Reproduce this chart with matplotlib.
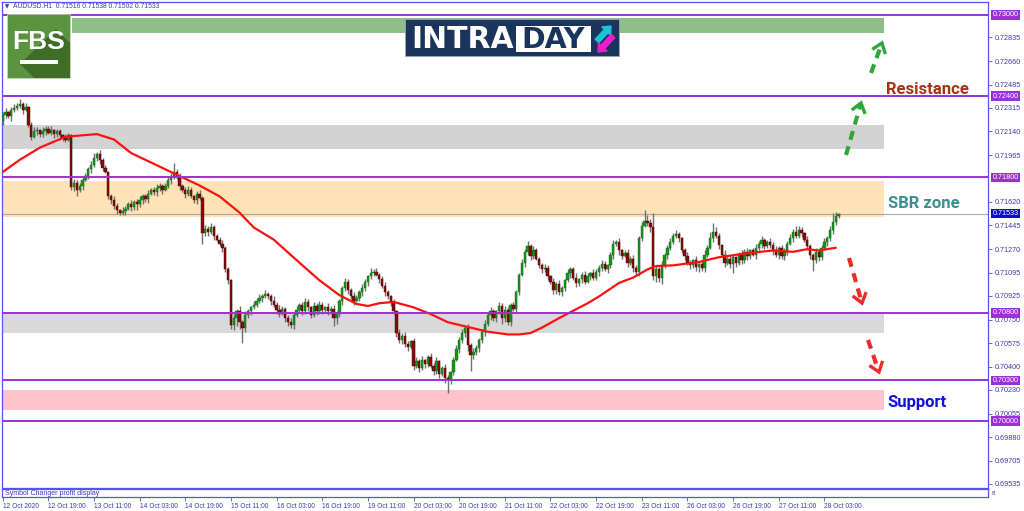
import numpy as np
import matplotlib
matplotlib.use('Agg')
import matplotlib.pyplot as plt
from matplotlib.patches import Rectangle, Polygon, FancyArrow

# AUDUSD H1 closes, 12 Oct 2020 00:00 .. 28 Oct 2020 (one value per hourly bar)
closes = [
    0.7226, 0.7228, 0.7225, 0.7230, 0.7231, 0.7233, 0.7234, 0.7230, 0.7232, 0.7219,
    0.7210, 0.7214, 0.7215, 0.7212, 0.7214, 0.7216, 0.7213, 0.7215, 0.7212, 0.7214,
    0.7211, 0.7209, 0.7208, 0.7211, 0.7173, 0.7176, 0.7171, 0.7174, 0.7178, 0.7181,
    0.7186, 0.7189, 0.7194, 0.7197, 0.7193, 0.7187, 0.7184, 0.7166, 0.7163, 0.7159,
    0.7156, 0.7154, 0.7155, 0.7157, 0.7160, 0.7158, 0.7162, 0.7160, 0.7163, 0.7166,
    0.7164, 0.7168, 0.7171, 0.7169, 0.7172, 0.7174, 0.7171, 0.7174, 0.7178, 0.7181,
    0.7184, 0.7180, 0.7174, 0.7171, 0.7168, 0.7171, 0.7166, 0.7163, 0.7168, 0.7165,
    0.7139, 0.7142, 0.7140, 0.7143, 0.7137, 0.7134, 0.7131, 0.7128, 0.7112, 0.7104,
    0.7071, 0.7076, 0.7081, 0.7073, 0.7069, 0.7078, 0.7081, 0.7084, 0.7086, 0.7089,
    0.7091, 0.7092, 0.7094, 0.7092, 0.7089, 0.7086, 0.7082, 0.7079, 0.7083, 0.7076,
    0.7073, 0.7071, 0.7078, 0.7082, 0.7086, 0.7081, 0.7088, 0.7084, 0.7078, 0.7085,
    0.7081, 0.7086, 0.7082, 0.7084, 0.7081, 0.7083, 0.7076, 0.7079, 0.7089, 0.7098,
    0.7103, 0.7097, 0.7092, 0.7089, 0.7091, 0.7095, 0.7098, 0.7103, 0.7107, 0.7109,
    0.7110, 0.7108, 0.7105, 0.7100, 0.7095, 0.7092, 0.7088, 0.7081, 0.7065, 0.7060,
    0.7063, 0.7057, 0.7055, 0.7059, 0.7041, 0.7044, 0.7039, 0.7045, 0.7042, 0.7047,
    0.7041, 0.7037, 0.7044, 0.7035, 0.7039, 0.7032, 0.7030, 0.7036, 0.7045, 0.7053,
    0.7060, 0.7065, 0.7069, 0.7056, 0.7049, 0.7051, 0.7054, 0.7060, 0.7066, 0.7072,
    0.7078, 0.7081, 0.7076, 0.7081, 0.7085, 0.7076, 0.7082, 0.7073, 0.7086, 0.7083,
    0.7095, 0.7108, 0.7117, 0.7125, 0.7129, 0.7122, 0.7126, 0.7120, 0.7115, 0.7112,
    0.7113, 0.7107, 0.7103, 0.7097, 0.7101, 0.7095, 0.7098, 0.7104, 0.7109, 0.7112,
    0.7106, 0.7102, 0.7105, 0.7108, 0.7103, 0.7107, 0.7109, 0.7106, 0.7110, 0.7113,
    0.7116, 0.7112, 0.7115, 0.7123, 0.7131, 0.7132, 0.7126, 0.7122, 0.7124, 0.7117,
    0.7120, 0.7113, 0.7110, 0.7135, 0.7144, 0.7148, 0.7146, 0.7143, 0.7107, 0.7112,
    0.7106, 0.7115, 0.7123, 0.7128, 0.7132, 0.7137, 0.7138, 0.7135, 0.7126, 0.7122,
    0.7117, 0.7115, 0.7119, 0.7114, 0.7116, 0.7113, 0.7123, 0.7128, 0.7135, 0.7140,
    0.7137, 0.7130, 0.7123, 0.7117, 0.7120, 0.7116, 0.7121, 0.7117, 0.7123, 0.7119,
    0.7125, 0.7122, 0.7126, 0.7123, 0.7128, 0.7131, 0.7134, 0.7129, 0.7132, 0.7130,
    0.7126, 0.7123, 0.7128, 0.7122, 0.7125, 0.7131, 0.7135, 0.7140, 0.7137, 0.7141,
    0.7139, 0.7134, 0.7129, 0.7123, 0.7119, 0.7125, 0.7121, 0.7128, 0.7132, 0.7135,
    0.7141, 0.7147, 0.71516, 0.71533,
]
first_open = 0.7222
# wick length beyond the body, in pips
up_wick = [
    2, 3, 1, 2, 3, 2, 4, 2, 3, 1,  2, 3, 2, 1, 3, 2, 2, 3, 1, 2,
    2, 1, 3, 2, 1, 3, 2, 2, 3, 2,  2, 3, 4, 2, 3, 1, 2, 1, 2, 3,
    2, 1, 3, 2, 2, 3, 1, 2, 3, 2,  2, 3, 1, 2, 3, 2, 1, 2, 3, 2,
    7, 2, 3, 1, 2, 3, 2, 1, 2, 3,  1, 3, 2, 3, 2, 1, 2, 3, 1, 2,
    1, 3, 2, 4, 2, 3, 2, 1, 3, 2,  3, 2, 3, 1, 2, 3, 2, 4, 2, 1,
    2, 3, 2, 3, 1, 2, 3, 2, 1, 3,  2, 3, 2, 1, 3, 2, 3, 2, 1, 2,
    3, 2, 1, 3, 2, 2, 3, 2, 1, 4,  2, 3, 1, 2, 3, 2, 1, 2, 1, 3,
    2, 3, 2, 1, 2, 3, 2, 3, 1, 2,  3, 2, 3, 1, 2, 3, 2, 1, 2, 3,
    2, 3, 1, 3, 2, 3, 2, 1, 2, 3,  2, 3, 2, 1, 3, 2, 3, 2, 1, 2,
    2, 1, 3, 2, 4, 2, 3, 2, 1, 2,  3, 2, 1, 3, 2, 3, 2, 1, 3, 2,
    2, 3, 1, 2, 3, 2, 1, 3, 2, 2,  3, 2, 1, 2, 3, 2, 3, 1, 2, 3,
    2, 3, 2, 2, 3, 8, 4, 3, 11, 3, 2, 3, 1, 2, 3, 2, 3, 2, 1, 2,
    3, 2, 1, 3, 2, 2, 3, 2, 5, 6,  3, 2, 1, 3, 2, 3, 2, 1, 2, 3,
    2, 3, 1, 2, 3, 2, 3, 1, 2, 3,  2, 3, 1, 2, 3, 2, 3, 2, 4, 3,
    2, 1, 3, 2, 1, 3, 2, 2, 3, 2,  3, 7, 3, 0,
]
dn_wick = [
    3, 2, 1, 3, 2, 1, 2, 3, 1, 2,  2, 1, 3, 2, 2, 3, 1, 2, 3, 2,
    3, 2, 2, 1, 2, 3, 5, 2, 3, 1,  2, 3, 1, 2, 3, 2, 1, 2, 3, 2,
    3, 2, 2, 3, 1, 3, 2, 4, 2, 3,  2, 3, 1, 2, 3, 2, 3, 1, 2, 3,
    2, 1, 3, 2, 3, 2, 1, 2, 3, 2,  8, 2, 3, 2, 3, 1, 2, 3, 2, 3,
    3, 4, 6, 5, 11, 3, 2, 3, 1, 2, 2, 3, 1, 2, 3, 2, 3, 2, 1, 3,
    3, 2, 3, 1, 2, 3, 2, 3, 2, 1,  3, 2, 3, 2, 3, 2, 6, 4, 2, 3,
    2, 3, 2, 3, 1, 2, 3, 2, 3, 2,  2, 1, 3, 2, 3, 2, 3, 2, 3, 2,
    3, 2, 3, 2, 3, 2, 3, 1, 3, 2,  2, 3, 2, 3, 2, 4, 9, 3, 2, 1,
    3, 2, 3, 4, 12, 3, 2, 3, 2, 3, 2, 3, 2, 3, 2, 4, 3, 2, 3, 2,
    3, 2, 1, 3, 2, 3, 2, 1, 2, 3,  2, 3, 2, 3, 3, 2, 3, 2, 1, 3,
    2, 3, 2, 3, 2, 1, 3, 2, 2, 3,  2, 1, 3, 2, 3, 2, 3, 2, 1, 3,
    2, 3, 2, 3, 2, 1, 2, 3, 3, 4,  3, 5, 2, 3, 2, 1, 2, 3, 2, 3,
    2, 3, 2, 3, 4, 2, 3, 2, 1, 3,  2, 3, 2, 3, 2, 3, 7, 3, 2, 3,
    2, 3, 2, 1, 3, 2, 3, 2, 1, 2,  3, 2, 3, 2, 3, 2, 1, 3, 2, 2,
    3, 2, 3, 3, 8, 2, 3, 2, 2, 3,  2, 3, 2, 0,
]
last_bar = [0.71516, 0.71538, 0.71502, 0.71533]   # O H L C

# red moving average, read at these bars
ma_bar = [0, 6, 13, 22, 33, 39, 45, 52, 60, 69, 76, 83, 88, 95, 104, 111, 118, 124, 128, 132,
          137, 144, 150, 156, 163, 170, 177, 181, 185, 189, 195, 205, 209, 216, 221, 226, 229, 235,
          244, 251, 261, 270, 277, 282, 286, 292]
ma_val = [0.7184, 0.7193, 0.7202, 0.7210, 0.7212, 0.7208, 0.7198, 0.7191, 0.7183, 0.7174,
          0.7166, 0.7154, 0.7143, 0.7134, 0.7117, 0.7104, 0.7093, 0.70865, 0.7085, 0.7087,
          0.7088, 0.7084, 0.7079, 0.7073, 0.70695, 0.7066, 0.7064, 0.7064, 0.7065, 0.7069,
          0.7076, 0.7087, 0.7092, 0.7102, 0.7106, 0.7112, 0.71145, 0.7115, 0.71175, 0.7121,
          0.7124, 0.7126, 0.7125, 0.7127, 0.7126, 0.7128]

levels = [0.73000, 0.72400, 0.71800, 0.70800, 0.70300, 0.70000]
zone_lo = [0.72867, 0.72010, 0.71507, 0.70650, 0.70081]
zone_hi = [0.72978, 0.72187, 0.71773, 0.70798, 0.70229]
zone_col = ['#8fbf88', '#d3d3d3', '#ffe3b6', '#d9d9d9', '#ffc2cc']

price_ticks = [0.72835, 0.72660, 0.72485, 0.72315, 0.72140, 0.71965, 0.71620, 0.71445,
               0.71270, 0.71095, 0.70925, 0.70750, 0.70575, 0.70400, 0.70230, 0.70055,
               0.69880, 0.69705, 0.69535]
date_labels = ['12 Oct 2020', '12 Oct 19:00', '13 Oct 11:00', '14 Oct 03:00', '14 Oct 19:00',
               '15 Oct 11:00', '16 Oct 03:00', '16 Oct 19:00', '19 Oct 11:00', '20 Oct 03:00',
               '20 Oct 19:00', '21 Oct 11:00', '22 Oct 03:00', '22 Oct 19:00', '23 Oct 11:00',
               '26 Oct 03:00', '26 Oct 19:00', '27 Oct 11:00', '28 Oct 03:00']
date_step = 16

frame = '#5454e8'
txt_blue = '#3a3ab4'

closes = np.array(closes)
opens = np.concatenate([[first_open], closes[:-1]])
highs = np.maximum(opens, closes) + np.array(up_wick) / 10000
lows = np.minimum(opens, closes) - np.array(dn_wick) / 10000
opens[-1], highs[-1], lows[-1], closes[-1] = last_bar
idx = np.arange(len(closes))

fig = plt.figure(figsize=(10.24, 5.11), dpi=100)
fig.patch.set_facecolor('white')
ax = fig.add_axes([2 / 1024, 23 / 511, 986 / 1024, 486 / 511])
ax.set_xlim(-0.25, 345.35)
ax.set_ylim(0.69505, 0.73096)

# zones
zone_end = 308.9
for k in range(len(zone_lo)):
    x0 = 24.3 if k == 0 else -0.25
    ax.add_patch(Rectangle((x0, zone_lo[k]), zone_end - x0, zone_hi[k] - zone_lo[k],
                           facecolor=zone_col[k], edgecolor='none', zorder=1))

# candles
up = closes >= opens
ax.vlines(idx, lows, highs, color='#707070', lw=1.0, zorder=3)
body = np.maximum(np.abs(closes - opens), 0.00005)
ax.bar(idx[up], body[up], bottom=opens[up], width=0.82, color='#0c9a12',
       edgecolor='#1f5f1f', linewidth=0.3, zorder=4)
ax.bar(idx[~up], body[~up], bottom=closes[~up], width=0.82, color='#8a0a0a',
       edgecolor='#4a0000', linewidth=0.3, zorder=4)

ax.plot(ma_bar, ma_val, color='#ff1010', lw=1.6, zorder=5, solid_capstyle='round',
        solid_joinstyle='round')

for lv in levels:
    ax.axhline(lv, color='#9b30d8', lw=1.4, zorder=6)
ax.axhline(last_bar[3], color='#a8a8a8', lw=0.8, zorder=2)

ax.yaxis.tick_right()
ax.set_yticks(price_ticks)
ax.set_yticklabels(['%.5f' % v for v in price_ticks])
ax.tick_params(axis='y', length=3, width=0.6, color=frame, labelsize=5.2, labelcolor=txt_blue,
               pad=2)
for lab in ax.get_yticklabels():
    lab.set_family('Liberation Sans')
ax.set_xticks([])
for s in ax.spines.values():
    s.set_color(frame)
    s.set_linewidth(0.9)

ytr = ax.get_yaxis_transform()
for lv in levels:
    ax.text(1.0045, lv, '%.5f' % lv, transform=ytr, ha='left', va='center', fontsize=5.2,
            family='Liberation Sans', color='white', clip_on=False,
            bbox=dict(boxstyle='square,pad=0.18', fc='#9b30d8', ec='none'))
ax.text(1.0045, last_bar[3], '%.5f' % last_bar[3], transform=ytr, ha='left', va='center',
        fontsize=5.2, family='Liberation Sans', color='white', clip_on=False,
        bbox=dict(boxstyle='square,pad=0.18', fc='#0a0ad8', ec='none'))

# small sub window with the time axis
sub = fig.add_axes([2 / 1024, 14 / 511, 986 / 1024, 8 / 511])
sub.set_xlim(ax.get_xlim())
sub.set_yticks([])
pos = [k * date_step for k in range(len(date_labels))]
sub.set_xticks(pos)
sub.set_xticklabels(date_labels)
sub.tick_params(axis='x', length=3, width=0.6, color=frame, labelsize=4.8,
                labelcolor=txt_blue, pad=1)
for lab in sub.get_xticklabels():
    lab.set_horizontalalignment('left')
    lab.set_family('Liberation Sans')
for s in sub.spines.values():
    s.set_color(frame)
    s.set_linewidth(0.9)
sub.text(0.003, 0.5, 'Symbol Changer profit display', transform=sub.transAxes, fontsize=5,
         family='Liberation Sans', color=txt_blue, va='center')
sub.text(1.004, 0.5, '8', transform=sub.transAxes, fontsize=4.5, family='Liberation Sans',
         color=txt_blue, va='center')

# overlay in pixel coordinates for logos, notes and arrows
ov = fig.add_axes([0, 0, 1, 1], zorder=10)
ov.set_xlim(0, 1024)
ov.set_ylim(511, 0)
ov.axis('off')
ov.patch.set_alpha(0)

ov.text(5, 7, '\u25bc', fontsize=4, color=txt_blue, va='center')
ov.text(13, 7, 'AUDUSD.H1  0.71516 0.71538 0.71502 0.71533', fontsize=4.9,
        family='Liberation Sans', color=txt_blue, va='center')

# FBS logo
ov.add_patch(Rectangle((7, 14), 63, 64, facecolor='#5a9440', edgecolor='#c8d8c0', lw=0.5))
ov.add_patch(Polygon([(20, 64), (56, 29), (70, 43), (70, 78), (34, 78)], closed=True,
                     facecolor='#3f6d28', edgecolor='none'))
ov.text(39, 42, 'FBS', fontsize=19, fontweight='bold', color='white', ha='center',
        va='center', family='Liberation Sans')
ov.add_patch(Rectangle((20, 60), 38, 4, facecolor='white', edgecolor='none'))

# INTRADAY logo
ov.add_patch(Rectangle((405, 19), 214, 37, facecolor='#1a345c', edgecolor='#9aa6b8', lw=0.6))
ov.text(411, 39, 'INTRA', fontsize=21.5, fontweight='bold', color='white', ha='left',
        va='center', family='DejaVu Sans')
ov.add_patch(Rectangle((516, 26), 75, 26, facecolor='white', edgecolor='none'))
ov.text(553.5, 39.5, 'DAY', fontsize=20.5, fontweight='bold', color='#1a345c', ha='center',
        va='center', family='DejaVu Sans')
ov.add_patch(FancyArrow(597, 41, 14, -15, width=5, head_width=12, head_length=7,
                        length_includes_head=True, color='#19c4d8'))
ov.add_patch(FancyArrow(613, 36, -15, 16, width=5, head_width=12, head_length=7,
                        length_includes_head=True, color='#ea1ecb'))

ov.text(886, 94, 'Resistance', fontsize=12, fontweight='bold', color='#a8330f',
        family='Roboto', va='baseline')
ov.text(888, 208.5, 'SBR zone', fontsize=12, fontweight='bold', color='#3c8e8e',
        family='Roboto', va='baseline')
ov.text(887, 406.5, 'Support', fontsize=12, fontweight='bold', color='#1010e0',
        family='Roboto', va='baseline')


def dashed_arrow(x0, y0, x1, y1, col):
    d = np.array([x1 - x0, y1 - y0], float)
    d /= np.hypot(*d)
    n = np.array([-d[1], d[0]])
    tip = np.array([x1, y1])
    ov.plot([x0, x1 - 2 * d[0]], [y0, y1 - 2 * d[1]], color=col, lw=3, dashes=(2.2, 1.6),
            solid_capstyle='butt')
    w1 = tip - 8 * d + 6 * n
    w2 = tip - 8 * d - 6 * n
    ov.plot([w1[0], tip[0], w2[0]], [w1[1], tip[1], w2[1]], color=col, lw=2.4,
            solid_joinstyle='miter')


dashed_arrow(846, 155, 861, 103, '#2ea83a')
dashed_arrow(871, 73, 882, 43, '#2ea83a')
dashed_arrow(849, 258, 862, 303, '#f02a2a')
dashed_arrow(868, 340, 879, 372, '#f02a2a')

fig.savefig('out.png', dpi=100)
